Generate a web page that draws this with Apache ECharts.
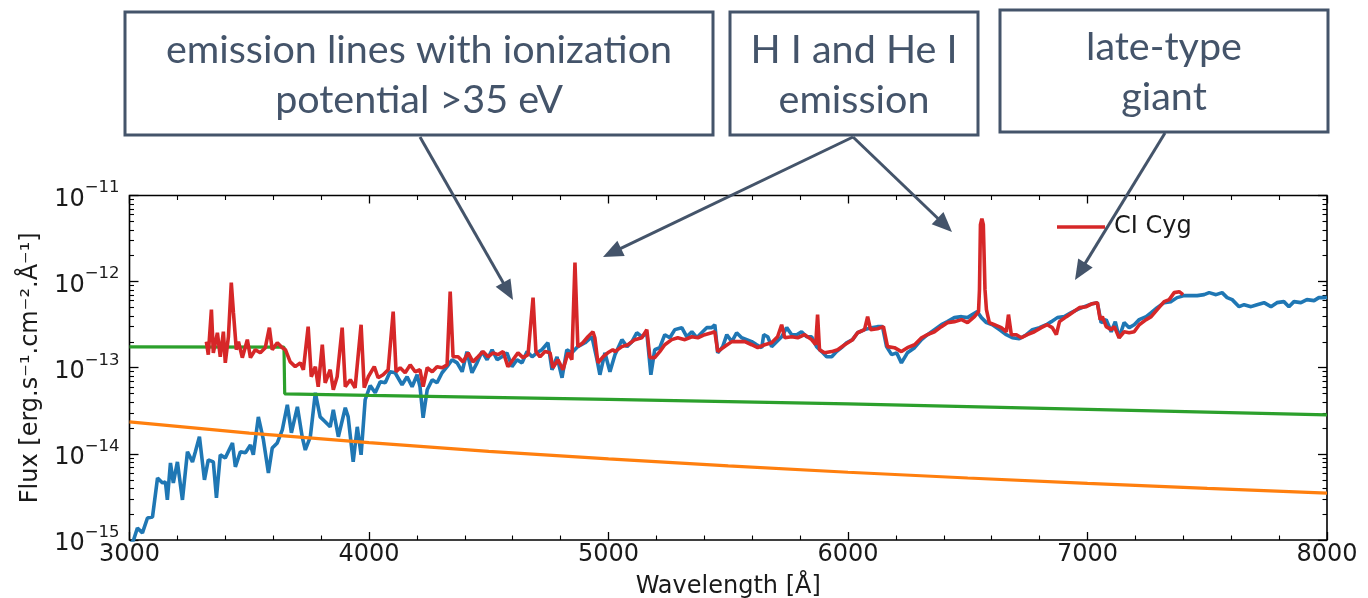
<!DOCTYPE html>
<html>
<head>
<meta charset="utf-8">
<script src="https://cdn.jsdelivr.net/npm/echarts@6/dist/echarts.min.js"></script>
<style>
html,body{margin:0;padding:0;background:#fff;}
#chart{width:1368px;height:598px;}
</style>
</head>
<body>
<div id="chart"></div>
<script>
// ---------------- DATA ----------------
// wavelength [Å], flux [erg s^-1 cm^-2 Å^-1]
const xTicks = [3000, 4000, 5000, 6000, 7000, 8000];
const yDecades = [1e-15, 1e-14, 1e-13, 1e-12, 1e-11];

const modelSpectrum = [ // blue
[3005,9.0e-16],[3017,1.0e-15],[3033,1.38e-15],[3054,1.21e-15],[3075,1.80e-15],[3096,1.85e-15],[3117,5.26e-15],[3138,4.60e-15],[3150,4.73e-15],[3158,2.92e-15],[3171,7.86e-15],[3183,4.60e-15],[3200,8.07e-15],[3221,2.92e-15],[3242,1.06e-14],[3263,8.07e-15],[3275,1.06e-14],[3292,1.58e-14],[3313,4.99e-15],[3329,8.52e-15],[3350,8.07e-15],[3363,3.08e-15],[3379,9.74e-15],[3400,8.99e-15],[3430,1.34e-14],[3442,7.06e-15],[3463,1.06e-14],[3484,1.03e-14],[3505,1.27e-14],[3517,9.74e-15],[3538,2.69e-14],[3559,1.46e-14],[3580,6.02e-15],[3596,1.17e-14],[3617,1.34e-14],[3638,1.90e-14],[3659,3.72e-14],[3676,1.76e-14],[3701,3.52e-14],[3721,1.58e-14],[3734,1.11e-14],[3755,1.58e-14],[3776,5.12e-14],[3796,2.69e-14],[3817,2.36e-14],[3838,2.06e-14],[3851,3.25e-14],[3872,1.58e-14],[3901,3.43e-14],[3913,2.69e-14],[3934,8.07e-15],[3951,2.06e-14],[3967,9.74e-15],[3984,4.25e-14],
[4005,6.2e-14],[4026,5.12e-14],[4047,6.88e-14],[4068,6.69e-14],[4088,8.99e-14],[4109,8.75e-14],[4138,6.35e-14],[4159,7.86e-14],[4180,6.02e-14],[4201,8.29e-14],[4213,6.02e-14],[4226,2.62e-14],[4243,5.55e-14],[4264,7.25e-14],[4284,6.69e-14],[4305,8.75e-14],[4326,1.03e-13],[4347,1.24e-13],[4368,1.14e-13],[4389,8.99e-14],[4409,1.54e-13],[4430,8.75e-14],[4451,1.14e-13],[4472,1.54e-13],[4493,1.24e-13],[4514,1.62e-13],[4535,1.24e-13],[4555,1.34e-13],[4576,1.49e-13],[4597,1.03e-13],[4618,1.24e-13],[4639,1.14e-13],[4660,1.54e-13],[4681,1.34e-13],[4701,1.49e-13],[4722,1.62e-13],[4747,1.95e-13],[4764,9.48e-14],[4785,1.34e-13],[4806,7.65e-14],[4826,1.62e-13],[4847,1.49e-13],[4872,1.76e-13],[4902,1.95e-13],[4931,2.29e-13],[4952,1.24e-13],[4964,8.29e-14],[4985,1.49e-13],
[5006,8.99e-14],[5027,1.42e-13],[5056,2.12e-13],[5077,1.76e-13],[5098,2.01e-13],[5118,2.55e-13],[5139,2.29e-13],[5160,2.55e-13],[5177,8.29e-14],[5193,1.62e-13],[5214,1.71e-13],[5235,2.42e-13],[5256,2.23e-13],[5277,2.77e-13],[5306,2.92e-13],[5327,2.29e-13],[5348,2.62e-13],[5369,2.23e-13],[5389,2.55e-13],[5410,2.92e-13],[5431,2.92e-13],[5444,3.16e-13],[5456,1.49e-13],[5477,1.76e-13],[5494,2.42e-13],[5515,2.01e-13],[5535,2.55e-13],[5556,2.23e-13],[5577,2.12e-13],[5598,2.01e-13],[5619,1.85e-13],[5640,1.71e-13],[5648,2.42e-13],[5665,2.29e-13],[5681,1.76e-13],[5702,2.01e-13],[5723,2.29e-13],[5744,2.92e-13],[5765,2.42e-13],[5786,2.42e-13],[5806,2.62e-13],[5827,2.29e-13],[5848,2.29e-13],[5869,1.76e-13],[5890,1.54e-13],[5911,1.34e-13],[5932,1.34e-13],[5952,1.54e-13],[5973,1.71e-13],[5994,1.95e-13],
[6019,2.12e-13],[6040,2.55e-13],[6069,2.77e-13],[6098,2.92e-13],[6123,3.00e-13],[6144,3.00e-13],[6161,1.76e-13],[6182,1.42e-13],[6203,1.49e-13],[6223,1.14e-13],[6248,1.49e-13],[6278,1.71e-13],[6307,2.12e-13],[6332,2.42e-13],[6361,2.77e-13],[6390,3.16e-13],[6415,3.43e-13],[6444,3.82e-13],[6474,3.92e-13],[6499,3.82e-13],[6519,4.14e-13],[6540,4.48e-13],[6557,3.82e-13],[6578,3.34e-13],[6603,3.16e-13],[6632,2.77e-13],[6661,2.42e-13],[6686,2.23e-13],[6715,2.17e-13],[6745,2.42e-13],[6770,2.77e-13],[6799,2.92e-13],[6828,3.16e-13],[6849,3.43e-13],[6874,3.82e-13],[6903,3.92e-13],[6932,4.36e-13],[6957,4.73e-13],[6987,5.12e-13],
[7020,5.55e-13],[7041,5.70e-13],[7057,3.34e-13],[7078,3.62e-13],[7099,2.62e-13],[7116,3.43e-13],[7132,2.23e-13],[7153,3.34e-13],[7174,2.92e-13],[7195,3.16e-13],[7216,3.62e-13],[7245,3.92e-13],[7266,4.36e-13],[7291,4.99e-13],[7320,5.70e-13],[7349,5.86e-13],[7374,6.52e-13],[7404,6.88e-13],[7433,6.88e-13],[7458,6.88e-13],[7487,7.06e-13],[7508,7.45e-13],[7537,7.06e-13],[7562,7.45e-13],[7583,6.52e-13],[7604,6.18e-13],[7633,5.12e-13],[7654,5.40e-13],[7683,5.12e-13],[7708,5.40e-13],[7737,5.70e-13],[7766,5.12e-13],[7791,5.70e-13],[7820,5.86e-13],[7841,5.12e-13],[7862,5.86e-13],[7891,5.70e-13],[7916,6.18e-13],[7946,6.02e-13],[7966,6.52e-13],[7987,6.52e-13],[8000,6.6e-13]
];

const ciCygSpectrum = [ // red, observed
[3321,2.01e-13],[3329,1.42e-13],[3342,4.73e-13],[3350,1.49e-13],[3367,2.55e-13],[3379,1.34e-13],[3392,2.62e-13],[3400,1.14e-13],[3413,2.29e-13],[3425,9.74e-13],[3434,4.36e-13],[3446,1.62e-13],[3455,2.01e-13],[3471,1.31e-13],[3492,2.12e-13],[3505,1.31e-13],[3525,1.62e-13],[3546,1.49e-13],[3567,1.71e-13],[3584,2.92e-13],[3596,1.62e-13],[3617,1.95e-13],[3638,1.71e-13],[3651,1.62e-13],[3671,1.17e-13],[3692,1.03e-13],[3713,1.14e-13],[3726,9.48e-14],[3746,3.00e-13],[3759,7.86e-14],[3776,1.03e-13],[3788,6.02e-14],[3805,1.85e-13],[3817,6.69e-14],[3838,9.48e-14],[3851,5.55e-14],[3867,7.86e-14],[3888,2.92e-13],[3901,6.02e-14],[3922,7.25e-14],[3942,5.86e-14],[3967,3.16e-13],[3980,5.86e-14],[3997,7.86e-14],
[4022,1.03e-13],[4038,7.65e-14],[4059,8.29e-14],[4080,9.48e-14],[4101,4.48e-13],[4113,8.99e-14],[4130,1.00e-13],[4151,8.75e-14],[4172,1.08e-13],[4193,8.99e-14],[4213,9.48e-14],[4226,6.02e-14],[4243,1.00e-13],[4264,8.99e-14],[4284,1.03e-13],[4305,1.00e-13],[4326,1.08e-13],[4339,7.65e-13],[4351,1.34e-13],[4372,1.34e-13],[4393,1.17e-13],[4414,1.49e-13],[4434,1.17e-13],[4455,1.34e-13],[4476,1.54e-13],[4497,1.34e-13],[4518,1.49e-13],[4539,1.42e-13],[4560,1.54e-13],[4580,1.03e-13],[4601,1.24e-13],[4622,1.49e-13],[4643,1.31e-13],[4664,1.42e-13],[4685,6.52e-13],[4697,1.54e-13],[4714,1.34e-13],[4735,1.54e-13],[4756,1.49e-13],[4768,1.00e-13],[4789,1.24e-13],[4810,9.48e-14],[4831,1.49e-13],[4847,1.24e-13],[4860,1.66e-12],[4872,1.76e-13],[4893,1.95e-13],[4914,2.29e-13],[4935,2.62e-13],[4943,2.23e-13],[4956,1.14e-13],[4977,1.34e-13],[4997,1.49e-13],
[5018,1.62e-13],[5027,1.54e-13],[5056,1.76e-13],[5081,1.85e-13],[5110,2.12e-13],[5139,2.23e-13],[5160,2.77e-13],[5173,1.31e-13],[5193,1.31e-13],[5214,1.54e-13],[5235,1.85e-13],[5264,2.12e-13],[5289,2.23e-13],[5319,2.12e-13],[5348,2.29e-13],[5373,2.23e-13],[5402,2.42e-13],[5431,2.55e-13],[5444,2.62e-13],[5456,1.54e-13],[5485,1.76e-13],[5515,2.01e-13],[5540,2.01e-13],[5569,2.01e-13],[5598,1.85e-13],[5623,1.71e-13],[5652,1.85e-13],[5681,1.95e-13],[5706,2.29e-13],[5723,3.16e-13],[5736,2.23e-13],[5765,2.29e-13],[5790,2.23e-13],[5819,2.42e-13],[5848,2.12e-13],[5865,1.85e-13],[5873,4.14e-13],[5881,1.62e-13],[5902,1.49e-13],[5932,1.54e-13],[5957,1.62e-13],[5986,1.85e-13],
[6019,2.12e-13],[6040,2.55e-13],[6069,2.77e-13],[6082,3.92e-13],[6094,2.77e-13],[6123,2.84e-13],[6148,3.00e-13],[6165,1.76e-13],[6194,1.71e-13],[6223,1.54e-13],[6248,1.71e-13],[6278,1.85e-13],[6307,2.23e-13],[6332,2.42e-13],[6361,2.62e-13],[6390,3.00e-13],[6415,3.34e-13],[6444,3.43e-13],[6474,3.62e-13],[6499,3.34e-13],[6528,3.92e-13],[6545,4.48e-13],[6549,8.07e-13],[6553,4.60e-12],[6559,5.40e-12],[6565,4.60e-12],[6572,8.07e-13],[6578,4.73e-13],[6590,3.34e-13],[6611,3.16e-13],[6640,2.92e-13],[6661,2.62e-13],[6670,4.14e-13],[6682,2.42e-13],[6703,2.42e-13],[6724,2.23e-13],[6749,2.42e-13],[6778,2.62e-13],[6807,2.92e-13],[6832,3.16e-13],[6853,2.92e-13],[6870,2.42e-13],[6883,3.43e-13],[6912,3.92e-13],[6936,4.36e-13],[6966,4.99e-13],[6995,5.12e-13],
[7020,5.55e-13],[7041,5.70e-13],[7053,3.62e-13],[7062,3.92e-13],[7078,3.00e-13],[7099,2.77e-13],[7112,3.00e-13],[7132,2.23e-13],[7153,2.62e-13],[7174,2.55e-13],[7195,2.62e-13],[7216,3.16e-13],[7245,3.62e-13],[7266,3.92e-13],[7291,4.73e-13],[7320,5.86e-13],[7341,6.18e-13],[7362,7.45e-13],[7383,7.65e-13],[7399,7.06e-13]
];

const nebularContinuum = [ // green
[3000,1.75e-13],[3645,1.74e-13],[3648,4.98e-14],[4000,4.79e-14],[5000,4.30e-14],[6000,3.81e-14],[7000,3.29e-14],[8000,2.84e-14]
];

const hotComponent = [ // orange
[3000,2.35e-14],[3500,1.74e-14],[4000,1.35e-14],[4500,1.07e-14],[5000,8.73e-15],[5500,7.24e-15],[6000,6.12e-15],[6500,5.25e-15],[7000,4.54e-15],[7500,3.97e-15],[8000,3.51e-15]
];

const legendLabel = 'CI Cyg';
const xName = 'Wavelength [Å]';
const yName = 'Flux [erg.s⁻¹.cm⁻².Å⁻¹]';

const annotations = [
  {lines: ['emission lines with ionization', 'potential >35 eV']},
  {lines: ['H I and He I', 'emission']},
  {lines: ['late-type', 'giant']}
];

// ---------------- CHART ----------------
const FONT = "'DejaVu Sans', sans-serif";
const TXT = '#1a1a1a';
const ANN = '#44546A';
const AXIS_FS = 24;

// minor log tick positions (in log10 units) for the overlay axes
const minorLog = [];
for (let e = -15; e < -11; e++) for (let m = 2; m <= 9; m++) minorLog.push(e + Math.log10(m));

const chart = echarts.init(document.getElementById('chart'), null, {renderer: 'canvas'});

const gridDef = {left: 129.5, right: 41, top: 195.5, bottom: 58, show: true, borderColor: '#000', borderWidth: 1.6,
  backgroundColor: 'transparent', containLabel: false, outerBoundsMode: 'none'};

function xAxisDef(pos, showLabel) {
  return {
    type: 'value', position: pos, min: xTicks[0], max: xTicks[xTicks.length - 1], interval: 1000,
    axisLine: {show: false},
    axisTick: {show: true, inside: true, length: 8, lineStyle: {color: '#000', width: 1.3}},
    minorTick: {show: true, splitNumber: 5, length: 4.5, lineStyle: {color: '#000', width: 1.1}},
    splitLine: {show: false},
    axisLabel: {show: showLabel, fontFamily: FONT, fontSize: AXIS_FS, color: TXT, margin: 3,
      formatter: function (v) { return String(v); }},
    name: showLabel ? xName : '', nameLocation: 'middle', nameGap: 35,
    nameTextStyle: {fontFamily: FONT, fontSize: AXIS_FS, color: TXT}
  };
}

function yMajor(pos, showLabel) {
  return {
    type: 'log', logBase: 10, position: pos, min: yDecades[0], max: yDecades[yDecades.length - 1],
    axisLine: {show: false},
    axisTick: {show: true, inside: true, length: 9, lineStyle: {color: '#000', width: 1.3}},
    splitLine: {show: false},
    axisLabel: {
      show: showLabel, margin: 10,
      formatter: function (v) {
        const e = Math.round(Math.log10(v));
        return '{b|10}{s|−' + Math.abs(e) + '}';
      },
      rich: {
        b: {fontFamily: FONT, fontSize: AXIS_FS, color: TXT, padding: [8, 0, 0, 0], verticalAlign: 'bottom'},
        s: {fontFamily: FONT, fontSize: 16.5, color: TXT, verticalAlign: 'top'}
      }
    },
    name: showLabel ? yName : '', nameLocation: 'middle', nameGap: 86, nameRotate: 90,
    nameTextStyle: {fontFamily: FONT, fontSize: AXIS_FS, color: TXT}
  };
}

function yMinor(pos) {
  return {
    type: 'value', position: pos, min: -15, max: -11,
    axisLine: {show: false},
    axisTick: {show: true, inside: true, length: 4.5, customValues: minorLog, lineStyle: {color: '#000', width: 1.1}},
    axisLabel: {show: false},
    splitLine: {show: false}
  };
}

// annotation geometry (boxes and arrows, in pixels)
const boxes = [
  {x: 125, y: 12, w: 588, h: 123, ty: [50, 100]},
  {x: 730, y: 12, w: 248, h: 123, ty: [50, 100]},
  {x: 1000, y: 10, w: 328, h: 122, ty: [47, 97]}
];
const arrows = [
  [420, 137, 513, 300],
  [853, 137, 603, 257],
  [853, 137, 952, 232],
  [1165, 133, 1075, 280]
];

const graphics = [];
boxes.forEach(function (b, i) {
  graphics.push({type: 'rect', z: 100, shape: {x: b.x, y: b.y, width: b.w, height: b.h},
    style: {fill: '#fff', stroke: ANN, lineWidth: 3}});
  annotations[i].lines.forEach(function (t, j) {
    graphics.push({type: 'text', z: 101, style: {text: t, x: b.x + b.w / 2, y: b.ty[j],
      align: 'center', verticalAlign: 'middle', fill: ANN, fontFamily: "Lato, 'Open Sans', sans-serif", fontSize: 39.5}});
  });
});
arrows.forEach(function (a) {
  const x1 = a[0], y1 = a[1], x2 = a[2], y2 = a[3];
  const dx = x2 - x1, dy = y2 - y1, len = Math.hypot(dx, dy);
  const ux = dx / len, uy = dy / len, L = 20, W = 8.5;
  const bx = x2 - ux * L, by = y2 - uy * L, px = -uy, py = ux;
  graphics.push({type: 'line', z: 99, shape: {x1: x1, y1: y1, x2: bx + ux * 2, y2: by + uy * 2},
    style: {stroke: ANN, lineWidth: 3}});
  graphics.push({type: 'polygon', z: 99, shape: {points: [[x2, y2], [bx + px * W, by + py * W], [bx - px * W, by - py * W]]},
    style: {fill: ANN}});
});

const option = {
  animation: false,
  backgroundColor: '#fff',
  grid: gridDef,
  xAxis: [xAxisDef('bottom', true), xAxisDef('top', false)],
  yAxis: [yMajor('left', true), yMinor('left'), yMajor('right', false), yMinor('right')],
  legend: {
    show: true, left: 1057, top: 215, padding: 0, itemGap: 10,
    itemWidth: 48, itemHeight: 3.5,
    data: [{name: legendLabel, icon: 'rect'}],
    textStyle: {fontFamily: FONT, fontSize: AXIS_FS, color: TXT, padding: [0, 0, 0, 4]}
  },
  series: [
    {name: 'model', type: 'line', data: modelSpectrum, xAxisIndex: 0, yAxisIndex: 0, symbol: 'none',
      lineStyle: {color: '#1f77b4', width: 3.6}, itemStyle: {color: '#1f77b4'}, z: 2},
    {name: 'hot', type: 'line', data: hotComponent, xAxisIndex: 0, yAxisIndex: 0, symbol: 'none',
      lineStyle: {color: '#ff7f0e', width: 3.2}, itemStyle: {color: '#ff7f0e'}, z: 3},
    {name: 'nebular', type: 'line', data: nebularContinuum, xAxisIndex: 0, yAxisIndex: 0, symbol: 'none',
      lineStyle: {color: '#2ca02c', width: 3.2}, itemStyle: {color: '#2ca02c'}, z: 4},
    {name: legendLabel, type: 'line', data: ciCygSpectrum, xAxisIndex: 0, yAxisIndex: 0, symbol: 'none',
      lineStyle: {color: '#d62728', width: 3.6}, itemStyle: {color: '#d62728'}, z: 5}
  ],
  graphic: graphics
};
chart.setOption(option);
</script>
</body>
</html>
